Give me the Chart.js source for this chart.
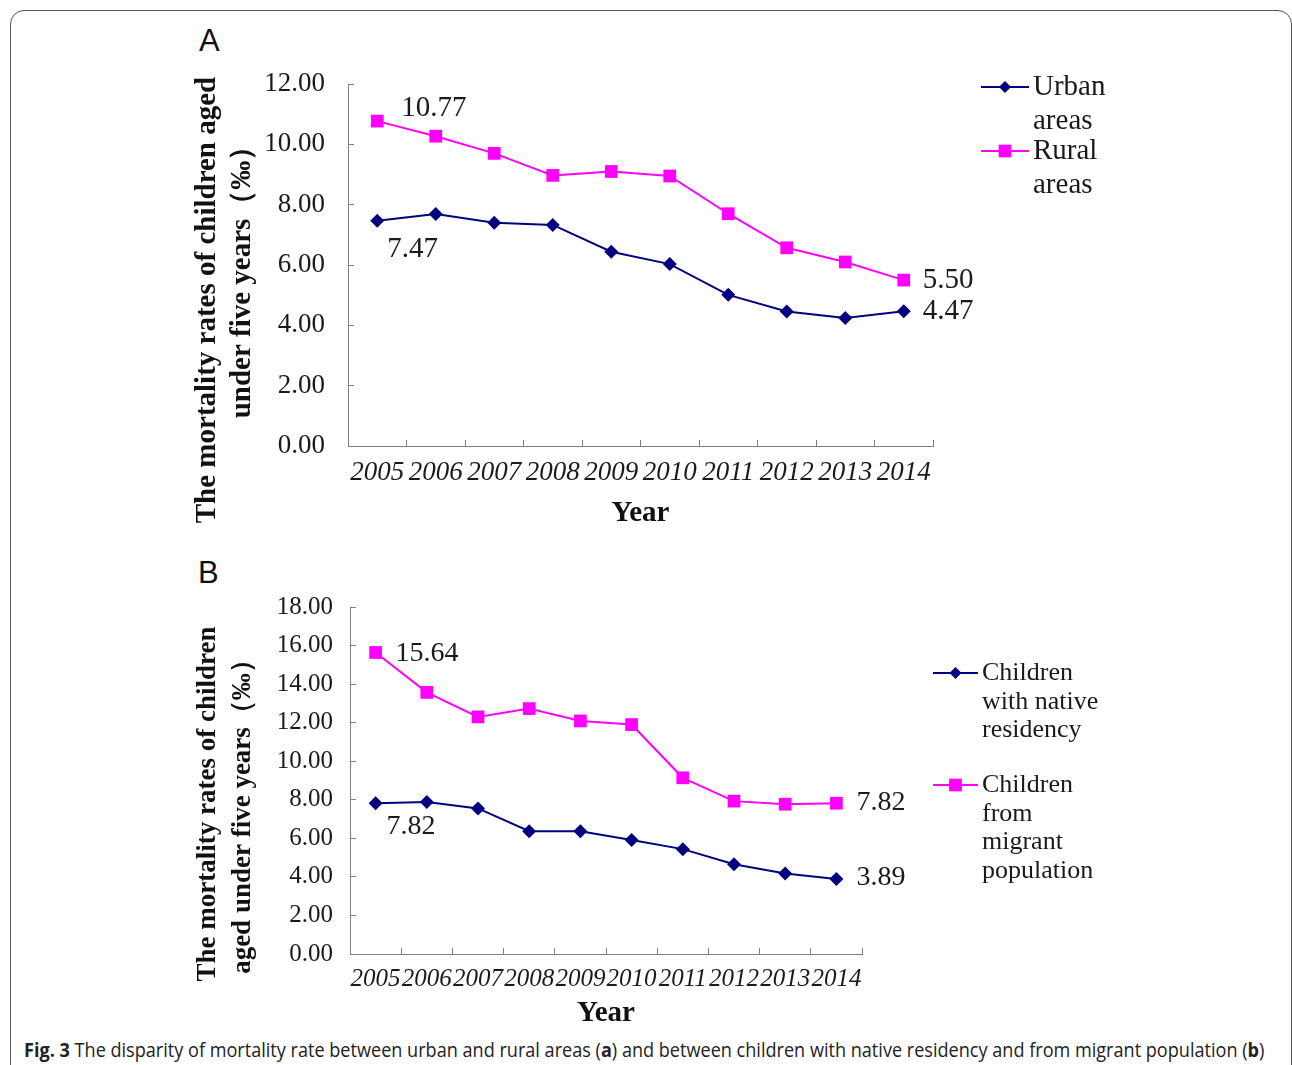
<!DOCTYPE html>
<html>
<head>
<meta charset="utf-8">
<script src="https://cdn.jsdelivr.net/npm/chart.js@4.4.1/dist/chart.umd.min.js"></script>
<style>
  body { margin: 0; background: #fff; width: 1292px; height: 1065px; overflow: hidden; position: relative; }
  #frame { position: absolute; left: 10px; top: 10px; width: 1280px; height: 1120px; border: 1px solid #555; border-radius: 14px; }
  .panel { position: absolute; left: 180px; width: 1000px; }
  #boxA { top: 20px; height: 530px; }
  #boxB { top: 560px; height: 472px; }
  .letter { position: absolute; font-family: "Liberation Sans", Arial, sans-serif; font-size: 31px; color: #111; line-height: 1; }
  #caption { position: absolute; left: 24px; top: 1036px; white-space: nowrap; font-family: "Open Sans", sans-serif; font-size: 20px; color: #222; transform-origin: left center; }
</style>
</head>
<body>
<div id="frame"></div>
<div class="letter" style="left:199px; top:25px;">A</div>
<div class="letter" style="left:198px; top:557px;">B</div>
<div class="panel" id="boxA"><canvas id="chartA"></canvas></div>
<div class="panel" id="boxB"><canvas id="chartB"></canvas></div>
<div id="caption"><b>Fig. 3</b> The disparity of mortality rate between urban and rural areas (<b>a</b>) and between children with native residency and from migrant population (<b>b</b>)</div>
<script>
// values (per mille)
const years = ['2005', '2006', '2007', '2008', '2009', '2010', '2011', '2012', '2013', '2014'];
const urbanRates = [7.47, 7.69, 7.40, 7.33, 6.44, 6.03, 5.01, 4.46, 4.24, 4.47];
const ruralRates = [10.77, 10.27, 9.70, 8.97, 9.10, 8.95, 7.70, 6.57, 6.10, 5.50];
const nativeRates = [7.82, 7.89, 7.55, 6.37, 6.37, 5.91, 5.44, 4.66, 4.18, 3.89];
const migrantRates = [15.64, 13.57, 12.30, 12.73, 12.09, 11.90, 9.14, 7.93, 7.77, 7.82];

const legendA = [['Urban', 'areas'], ['Rural', 'areas']];
const legendB = [['Children', 'with native', 'residency'], ['Children', 'from', 'migrant', 'population']];

const SERIF = '"Liberation Serif", "Times New Roman", serif';
const NAVY = '#000080';
const PINK = '#ff00ff';
const AXIS = '#808080';

// marker shapes used both on the lines and in the legend
function drawMarker(ctx, style, x, y, r) {
    ctx.beginPath();
    if (style === 'rectRot') {
        ctx.moveTo(x, y - r); ctx.lineTo(x + r, y); ctx.lineTo(x, y + r); ctx.lineTo(x - r, y);
    } else {
        const s = r * Math.SQRT1_2;
        ctx.rect(x - s, y - s, 2 * s, 2 * s);
    }
    ctx.closePath();
    ctx.fill();
}

const legendBox = {
    id: 'legendBox',
    afterDraw(chart, args, opts) {
        const ctx = chart.ctx;
        ctx.save();
        ctx.font = opts.font;
        ctx.textBaseline = 'middle';
        ctx.textAlign = 'left';
        opts.items.forEach((lines, i) => {
            const ds = chart.data.datasets[i];
            const y = opts.ys[i];
            ctx.strokeStyle = ds.borderColor;
            ctx.lineWidth = 2;
            ctx.beginPath();
            ctx.moveTo(opts.x, y);
            ctx.lineTo(opts.x + opts.lineLen, y);
            ctx.stroke();
            ctx.fillStyle = ds.borderColor;
            drawMarker(ctx, ds.pointStyle, opts.x + opts.lineLen / 2, y, ds.pointStyle === 'rect' ? 9 : 6);
            ctx.fillStyle = '#1a1a1a';
            lines.forEach((t, j) => ctx.fillText(t, opts.x + opts.lineLen + 4, y + j * opts.gap));
        });
        ctx.restore();
    }
};

const pointNotes = {
    id: 'pointNotes',
    afterDatasetsDraw(chart, args, opts) {
        const ctx = chart.ctx;
        ctx.save();
        ctx.font = opts.font;
        ctx.fillStyle = '#1a1a1a';
        ctx.textBaseline = 'middle';
        ctx.textAlign = 'left';
        opts.notes.forEach(n => {
            const el = chart.getDatasetMeta(n.ds).data[n.i];
            const v = chart.data.datasets[n.ds].data[n.i];
            ctx.fillText(v.toFixed(2), el.x + n.dx, el.y + n.dy);
        });
        ctx.restore();
    }
};

const sideTitle = {
    id: 'sideTitle',
    afterDraw(chart, args, opts) {
        const ctx = chart.ctx;
        ctx.save();
        ctx.font = opts.font;
        ctx.fillStyle = '#111';
        ctx.textAlign = 'center';
        ctx.textBaseline = 'middle';
        opts.lines.forEach(l => {
            ctx.save();
            ctx.translate(l.x, l.y);
            ctx.rotate(-Math.PI / 2);
            ctx.fillText(l.text, 0, 0);
            ctx.restore();
        });
        ctx.restore();
    }
};

function makeDataset(label, data, color, style, radius) {
    return {
        label: label,
        data: data,
        borderColor: color,
        backgroundColor: color,
        pointBackgroundColor: color,
        pointBorderWidth: 0,
        pointStyle: style,
        pointRadius: radius,
        pointHoverRadius: radius,
        borderWidth: 2,
        tension: 0,
        fill: false
    };
}

function makeOptions(cfg) {
    return {
        responsive: true,
        maintainAspectRatio: false,
        animation: false,
        events: [],
        layout: { padding: { top: cfg.padTop, right: cfg.padRight, left: 0, bottom: 0 } },
        plugins: {
            legend: { display: false },
            tooltip: { enabled: false },
            legendBox: cfg.legend,
            pointNotes: cfg.notes,
            sideTitle: cfg.side
        },
        scales: {
            x: {
                offset: true,
                grid: { offset: true, drawOnChartArea: false, tickLength: -6, color: AXIS, lineWidth: 1 },
                border: { color: AXIS, width: 1 },
                ticks: {
                    autoSkip: false, maxRotation: 0, color: '#1a1a1a', padding: cfg.xPad,
                    font: { family: SERIF, size: cfg.tickSize, style: 'italic' }
                },
                title: {
                    display: true, text: 'Year', color: '#111',
                    font: { family: SERIF, size: 29, weight: 'bold' },
                    padding: { top: 0, bottom: cfg.titlePad }
                },
                afterFit(s) { s.height = cfg.xHeight; }
            },
            y: {
                min: 0,
                max: cfg.yMax,
                grid: { drawOnChartArea: false, tickLength: -6, color: AXIS, lineWidth: 1 },
                border: { color: AXIS, width: 1 },
                ticks: {
                    stepSize: 2, color: '#1a1a1a', padding: cfg.yPad,
                    font: { family: SERIF, size: cfg.tickSize },
                    callback: v => v.toFixed(2)
                },
                afterFit(s) { s.width = cfg.yWidth; }
            }
        }
    };
}

new Chart(document.getElementById('chartA'), {
    type: 'line',
    data: {
        labels: years,
        datasets: [
            makeDataset('Urban areas', urbanRates, NAVY, 'rectRot', 7),
            makeDataset('Rural areas', ruralRates, PINK, 'rect', 9)
        ]
    },
    options: makeOptions({
        padTop: 64, padRight: 247, xHeight: 104, yWidth: 168, yMax: 12,
        tickSize: 27, xPad: 17, yPad: 29, titlePad: 19,
        legend: { x: 801, lineLen: 48, ys: [67, 131], gap: 34, items: legendA, font: '29px ' + SERIF },
        notes: {
            font: '29px ' + SERIF,
            notes: [
                { ds: 1, i: 0, dx: 24, dy: -13 },
                { ds: 0, i: 0, dx: 10, dy: 29 },
                { ds: 1, i: 9, dx: 19, dy: 0 },
                { ds: 0, i: 9, dx: 19, dy: 0 }
            ]
        },
        side: {
            font: 'bold 29px ' + SERIF,
            lines: [
                { text: 'The mortality rates of children aged', x: 28, y: 280 },
                { text: 'under five years（‰）', x: 63, y: 255 }
            ]
        }
    }),
    plugins: [legendBox, pointNotes, sideTitle]
});

new Chart(document.getElementById('chartB'), {
    type: 'line',
    data: {
        labels: years,
        datasets: [
            makeDataset('Children with native residency', nativeRates, NAVY, 'rectRot', 7),
            makeDataset('Children from migrant population', migrantRates, PINK, 'rect', 9)
        ]
    },
    options: makeOptions({
        padTop: 47, padRight: 318, xHeight: 78, yWidth: 170, yMax: 18,
        tickSize: 25, xPad: 16, yPad: 23, titlePad: 1,
        legend: { x: 753, lineLen: 45, ys: [113, 225], gap: 28.7, items: legendB, font: '26px ' + SERIF },
        notes: {
            font: '28px ' + SERIF,
            notes: [
                { ds: 1, i: 0, dx: 20, dy: 1 },
                { ds: 0, i: 0, dx: 11, dy: 23 },
                { ds: 1, i: 9, dx: 20, dy: -1 },
                { ds: 0, i: 9, dx: 20, dy: -1 }
            ]
        },
        side: {
            font: 'bold 27px ' + SERIF,
            lines: [
                { text: 'The mortality rates of children', x: 28, y: 244 },
                { text: 'aged under five years（‰）', x: 63, y: 250 }
            ]
        }
    }),
    plugins: [legendBox, pointNotes, sideTitle]
});

// squeeze the caption to the width it has in the figure
const cap = document.getElementById('caption');
cap.style.transform = 'scaleX(' + (1240 / cap.offsetWidth) + ')';
</script>
</body>
</html>
